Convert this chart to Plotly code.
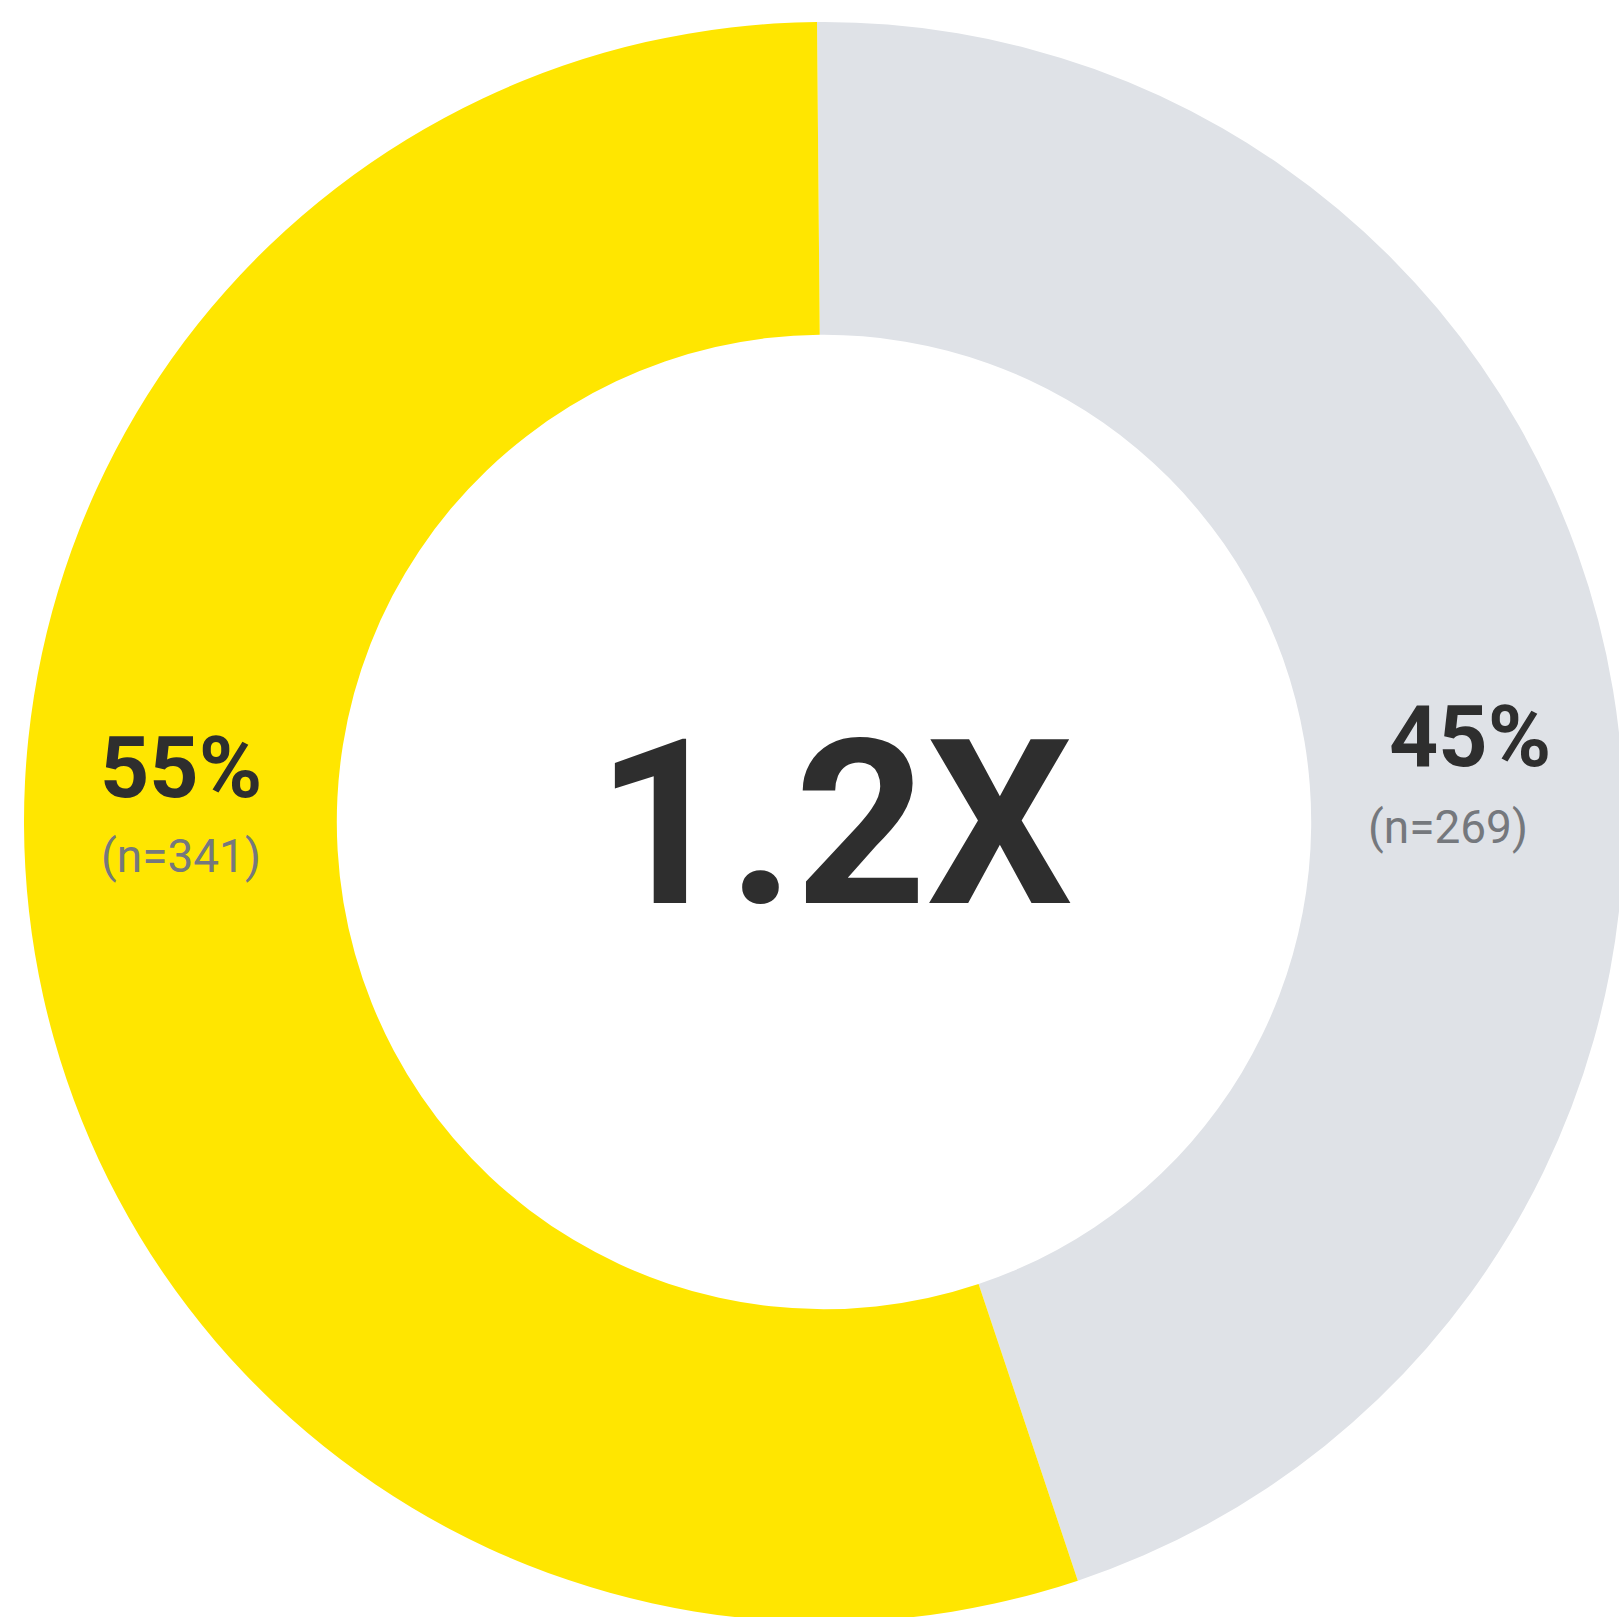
import plotly.graph_objects as go

labels = ["Group A", "Group B"]
values = [55, 45]
counts = [341, 269]
pct_text = ["55%", "45%"]
n_text = ["(n=341)", "(n=269)"]
center_text = "1.2X"
colors = ["#FFE600", "#DFE2E7"]

W, H = 1648, 1644
cx, cy, R = 824, 822, 800

# second group drawn first clockwise from 12 o'clock so group A sits on the left
fig = go.Figure(go.Pie(
    labels=labels[::-1], values=values[::-1], hole=0.609, sort=False,
    direction="clockwise", rotation=-0.5,
    marker=dict(colors=colors[::-1], line=dict(width=0)),
    textinfo="none", hoverinfo="skip", showlegend=False,
    domain=dict(x=[(cx - R) / W, (cx + R) / W], y=[(H - cy - R) / H, (H - cy + R) / H]),
))

def ann(text, px, py, size, color, weight, family="Roboto"):
    fig.add_annotation(text=text, x=px / W, y=1 - py / H, xref="paper", yref="paper",
                       xanchor="center", yanchor="middle", showarrow=False,
                       font=dict(family=family, size=size, color=color, weight=weight))

ann(pct_text[0], 181, 767, 86, "#2E2E2E", 700)
ann(n_text[0], 181, 856, 46, "#75787D", 400)
ann(pct_text[1], 1470, 737, 86, "#2E2E2E", 700)
ann(n_text[1], 1448, 827, 46, "#75787D", 400)
ann(center_text, 834, 824, 230, "#2E2E2E", 700)

fig.update_layout(width=W, height=H, margin=dict(l=0, r=0, t=0, b=0),
                  paper_bgcolor="white", plot_bgcolor="white")
fig.write_html("out.html")
